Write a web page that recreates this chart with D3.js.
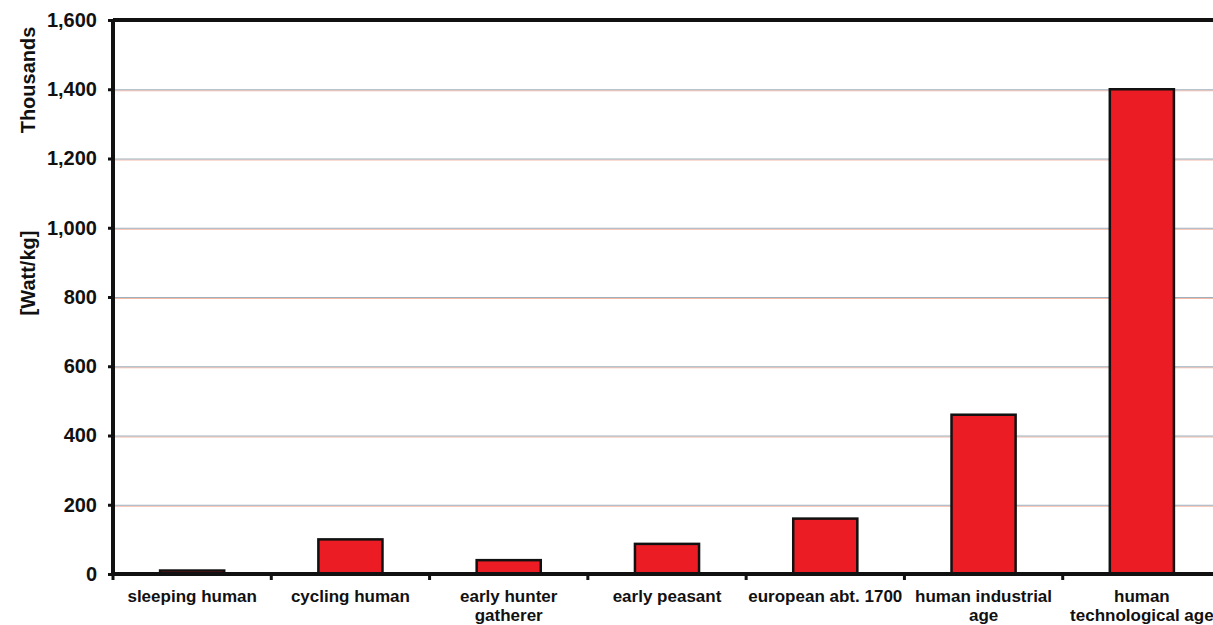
<!DOCTYPE html>
<html>
<head>
<meta charset="utf-8">
<script src="https://cdn.jsdelivr.net/npm/d3@7"></script>
<style>
  html, body { margin: 0; padding: 0; background: #fff; }
  svg { display: block; }
  text { font-family: "Liberation Sans", Arial, sans-serif; font-weight: bold; fill: #111; }
</style>
</head>
<body>
<svg id="chart" width="1213" height="625"></svg>
<script>
// Power density by stage of human development, in thousands of W/kg
const categories = [
  ["sleeping human"],
  ["cycling human"],
  ["early hunter", "gatherer"],
  ["early peasant"],
  ["european abt. 1700"],
  ["human industrial", "age"],
  ["human", "technological age"]
];
const values = [10, 100, 40, 87, 160, 460, 1400];
const yTicks = [0, 200, 400, 600, 800, 1000, 1200, 1400, 1600];
const yTitleTop = "Thousands";
const yTitleBottom = "[Watt/kg]";

const svg = d3.select("#chart");
const margin = { left: 113, top: 20, right: -8, bottom: 51 };
const width = 1213 - margin.left - margin.right;
const height = 625 - margin.top - margin.bottom;

const g = svg.append("g").attr("transform", `translate(${margin.left},${margin.top})`);

const x = d3.scaleBand()
  .domain(categories.map((d, i) => i))
  .range([0, width])
  .paddingInner(0.595)
  .paddingOuter(0.2975);

const y = d3.scaleLinear().domain([0, 1600]).range([height, 0]);

// horizontal grid lines: a grey line with a faint warm fringe underneath
const grid = g.append("g");
yTicks.filter(t => t > 0 && t < 1600).forEach(t => {
  grid.append("line")
    .attr("x1", 0).attr("x2", width)
    .attr("y1", y(t) + 1.5).attr("y2", y(t) + 1.5)
    .attr("stroke", "#f3b8a4").attr("stroke-width", 1);
  grid.append("line")
    .attr("x1", 0).attr("x2", width)
    .attr("y1", y(t) + 0.5).attr("y2", y(t) + 0.5)
    .attr("stroke", "#9fb0bf").attr("stroke-width", 1);
});

// bars
g.selectAll("rect.bar")
  .data(values)
  .join("rect")
  .attr("class", "bar")
  .attr("x", (d, i) => x(i))
  .attr("width", x.bandwidth())
  .attr("y", d => y(d))
  .attr("height", d => height - y(d))
  .attr("fill", "#ec1c24")
  .attr("stroke", "#111")
  .attr("stroke-width", 2.5);

// top frame line
g.append("line")
  .attr("x1", 0).attr("x2", width)
  .attr("y1", 0).attr("y2", 0)
  .attr("stroke", "#111").attr("stroke-width", 4);

// y axis
const yAxis = g.append("g")
  .call(d3.axisLeft(y).tickValues(yTicks).tickSize(5).tickPadding(11)
    .tickFormat(d3.format(",")));
yAxis.select(".domain").attr("stroke", "#111").attr("stroke-width", 4)
  .attr("d", `M0,${height + 2}V0`);
yAxis.selectAll(".tick line").attr("stroke", "#111").attr("stroke-width", 3);
yAxis.selectAll(".tick text")
  .style("font-size", "20px").style("font-family", "'Liberation Sans', Arial, sans-serif")
  .style("font-weight", "bold").attr("fill", "#111");

// x axis with ticks at category boundaries
const xAxisG = g.append("g").attr("transform", `translate(0,${height})`);
xAxisG.append("line")
  .attr("x1", -2).attr("x2", width)
  .attr("y1", 0).attr("y2", 0)
  .attr("stroke", "#111").attr("stroke-width", 4);
const step = x.step();
d3.range(categories.length).forEach(i => {
  const bx = x(i) - x.paddingOuter() * step;
  xAxisG.append("line")
    .attr("x1", bx).attr("x2", bx)
    .attr("y1", 0).attr("y2", 6)
    .attr("stroke", "#111").attr("stroke-width", 3);
});

const labels = xAxisG.selectAll("text.cat")
  .data(categories)
  .join("text")
  .attr("class", "cat")
  .attr("text-anchor", "middle")
  .attr("transform", (d, i) => `translate(${x(i) + x.bandwidth() / 2},28)`)
  .style("font-size", "17px");
labels.selectAll("tspan")
  .data(d => d)
  .join("tspan")
  .attr("x", 0)
  .attr("dy", (d, j) => j === 0 ? 0 : 19)
  .text(d => d);

// y axis titles
svg.append("text")
  .attr("transform", "translate(35,80) rotate(-90)")
  .attr("text-anchor", "middle")
  .style("font-size", "20px")
  .text(yTitleTop);
svg.append("text")
  .attr("transform", "translate(35,273) rotate(-90)")
  .attr("text-anchor", "middle")
  .style("font-size", "20px")
  .text(yTitleBottom);
</script>
</body>
</html>
